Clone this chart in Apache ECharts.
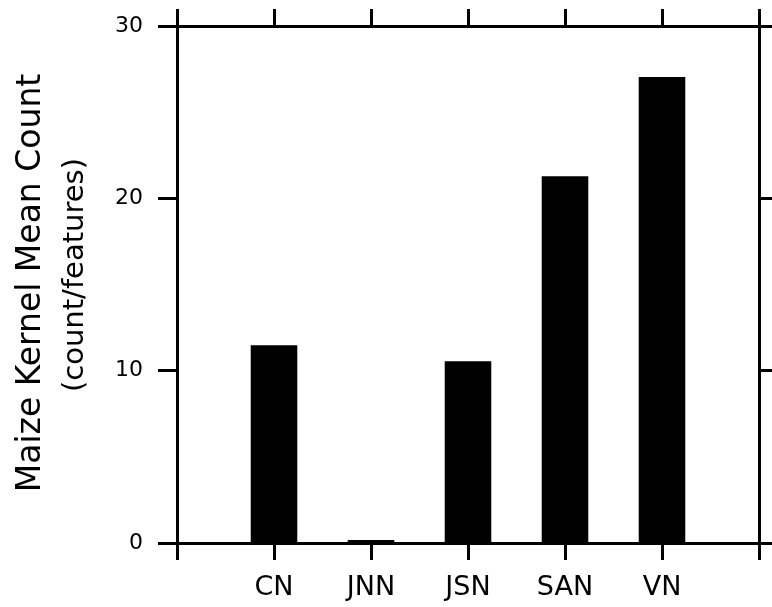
<!DOCTYPE html>
<html>
<head>
<meta charset="utf-8">
<script src="https://cdn.jsdelivr.net/npm/echarts@6/dist/echarts.min.js"></script>
<style>html,body{margin:0;padding:0;background:#fff;}#c{width:772px;height:607px;}</style>
</head>
<body>
<div id="c"></div>
<script>
const categories = ['CN', 'JNN', 'JSN', 'SAN', 'VN'];
const meanCounts = [11.48, 0.18, 10.55, 21.28, 27.04];
const yTicks = [0, 10, 20, 30];
const yTitle = 'Maize Kernel Mean Count';
const ySubtitle = '(count/features)';

const FONT = 'DejaVu Sans';
const axisData = [''].concat(categories, ['']);
const seriesData = [null].concat(meanCounts, [null]);

const chart = echarts.init(document.getElementById('c'), null, {renderer: 'canvas'});
const lineStyle = {color: '#000', width: 3};
const xBase = {
  type: 'category',
  data: axisData,
  boundaryGap: false,
  axisLine: {show: true, onZero: false, lineStyle: lineStyle},
  axisTick: {show: true, inside: false, length: 17, alignWithLabel: true, interval: 0, lineStyle: lineStyle},
  splitLine: {show: false}
};
const yBase = {
  type: 'value',
  min: yTicks[0],
  max: yTicks[yTicks.length - 1],
  interval: 10,
  axisLine: {show: true, lineStyle: lineStyle},
  axisTick: {show: true, inside: false, length: 19, lineStyle: lineStyle},
  splitLine: {show: false}
};
chart.setOption({
  animation: false,
  backgroundColor: '#fff',
  grid: {left: 177, right: 13, top: 26, bottom: 64, containLabel: false},
  xAxis: [
    Object.assign({}, xBase, {
      position: 'bottom',
      axisLabel: {show: true, interval: 0, color: '#000', fontFamily: FONT, fontSize: 27, margin: 31}
    }),
    Object.assign({}, xBase, {position: 'top', axisLabel: {show: false}})
  ],
  yAxis: [
    Object.assign({}, yBase, {
      position: 'left',
      axisLabel: {show: true, color: '#000', fontFamily: FONT, fontSize: 22, margin: 34}
    }),
    Object.assign({}, yBase, {position: 'right', axisLabel: {show: false}})
  ],
  graphic: [
    {type: 'text', x: 31, y: 283, rotation: Math.PI / 2,
     style: {text: yTitle, fill: '#000', fontFamily: FONT, fontSize: 33, align: 'center', verticalAlign: 'middle'}},
    {type: 'text', x: 75, y: 275, rotation: Math.PI / 2,
     style: {text: ySubtitle, fill: '#000', fontFamily: FONT, fontSize: 29, align: 'center', verticalAlign: 'middle'}}
  ],
  series: [{
    type: 'bar',
    data: seriesData,
    barWidth: '48%',
    itemStyle: {color: '#000'},
    xAxisIndex: 0,
    yAxisIndex: 0
  }]
});
</script>
</body>
</html>
